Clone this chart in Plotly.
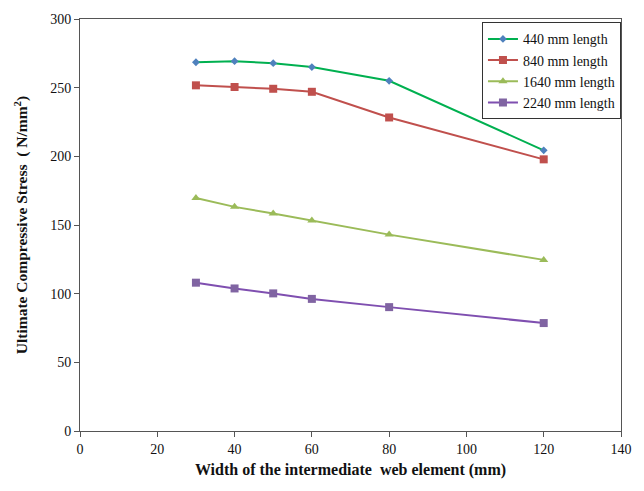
import plotly.graph_objects as go

widths = [30, 40, 50, 60, 80, 120]
s440 = [268.5, 269.3, 267.8, 265.0, 255.0, 204.4]
s840 = [251.7, 250.5, 249.2, 247.0, 228.3, 197.8]
s1640 = [169.7, 163.2, 158.4, 153.3, 143.0, 124.6]
s2240 = [108.0, 103.8, 100.2, 96.2, 90.2, 78.6]
names = ["440 mm length", "840 mm length", "1640 mm length", "2240 mm length"]
x_ticks = [0, 20, 40, 60, 80, 100, 120, 140]
y_ticks = [0, 50, 100, 150, 200, 250, 300]

series = [s440, s840, s1640, s2240]
line_colors = ["#00B050", "#C0504D", "#9BBB59", "#7F4FB0"]
marker_colors = ["#4F81BD", "#C0504D", "#9BBB59", "#8064A2"]
symbols = ["diamond", "square", "triangle-up", "square"]
msizes = [6, 8, 8, 8]

fig = go.Figure()
for ys, nm, lc, mc, sy, ms in zip(series, names, line_colors, marker_colors, symbols, msizes):
    fig.add_trace(go.Scatter(
        x=widths, y=ys, name=nm, mode="lines+markers",
        line=dict(color=lc, width=2),
        marker=dict(color=mc, symbol=sy, size=ms),
    ))

axis_common = dict(
    showgrid=False, zeroline=False, showline=True, linecolor="#555555", linewidth=1,
    mirror=True, ticks="outside", ticklen=5, tickcolor="#555555",
    tickfont=dict(family="Liberation Serif", size=14, color="#111111"),
)

fig.update_layout(
    width=644, height=491,
    margin=dict(l=80, r=23, t=16, b=60),
    paper_bgcolor="white", plot_bgcolor="white",
    font=dict(family="Liberation Serif", color="#111111"),
    xaxis=dict(range=[0, 140], tickvals=x_ticks, **axis_common,
               title=dict(text="<b>Width of the intermediate  web element (mm)</b>",
                          font=dict(family="Liberation Serif", size=16), standoff=8)),
    yaxis=dict(range=[0, 300], tickvals=y_ticks, **axis_common,
               title=dict(text="<b>Ultimate Compressive Stress  ( N/mm<sup>2</sup>)</b>",
                          font=dict(family="Liberation Serif", size=15.5), standoff=18)),
    legend=dict(x=0.743, y=0.992, xanchor="left", yanchor="top",
                bordercolor="#333333", borderwidth=1, bgcolor="white",
                font=dict(family="Liberation Serif", size=14), tracegroupgap=0,
                itemwidth=30),
)

fig.write_html("out.html")
